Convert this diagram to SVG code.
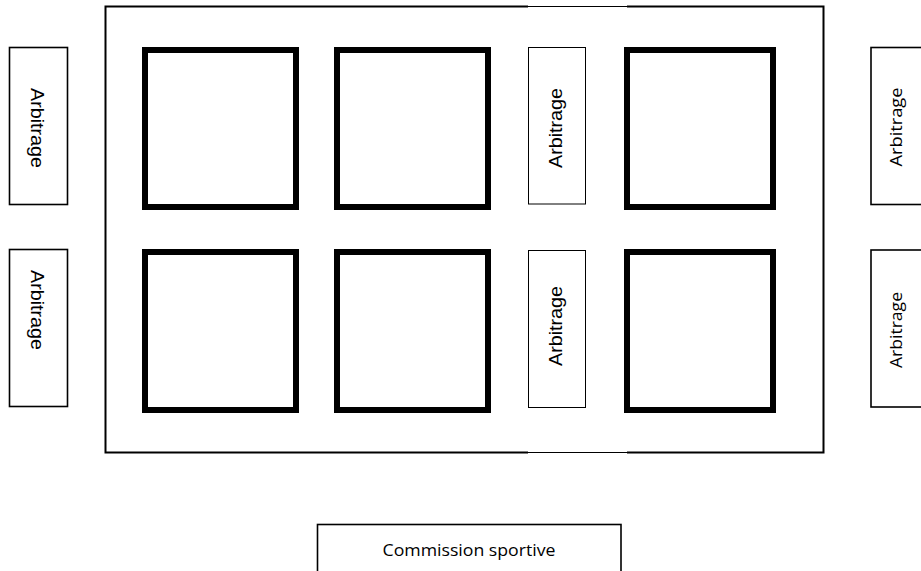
<svg xmlns="http://www.w3.org/2000/svg" width="921" height="571" viewBox="0 0 921 571">
<style>
.field{fill:none;stroke:#000;stroke-width:2}
.court{fill:#fff;stroke:#000;stroke-width:6}
.arb{fill:#fff;stroke:#000;stroke-width:1.6}
.arbthin{fill:#fff;stroke:#000;stroke-width:1}
.ta{font-family:"Liberation Sans",Arial,sans-serif;font-size:19px;fill:#000;text-anchor:middle}
.tc{font-family:"Open Sans","Liberation Sans",sans-serif;font-size:16px;fill:#000;text-anchor:middle}
</style>
<rect width="921" height="571" fill="#fff"/>
<g id="field">
<path class="field" d="M528 6.5 H105.5 V452.5 H528 M627 452.5 H823.5 V6.5 H627"/>
<path d="M528 6.5 H627 M528 452.5 H627" stroke="#000" stroke-width="1.2" fill="none"/>
</g>
<g id="court1"><rect class="court" x="145" y="50" width="151" height="157"/></g>
<g id="court2"><rect class="court" x="337" y="50" width="151" height="157"/></g>
<g id="court3"><rect class="court" x="627" y="50" width="146" height="157"/></g>
<g id="court4"><rect class="court" x="145" y="252" width="151" height="158"/></g>
<g id="court5"><rect class="court" x="337" y="252" width="151" height="158"/></g>
<g id="court6"><rect class="court" x="627" y="252" width="146" height="158"/></g>
<g id="arb-left-1"><rect class="arb" x="9.5" y="47.5" width="58" height="157"/><text class="ta" transform="translate(31 128) rotate(90)" textLength="80" lengthAdjust="spacingAndGlyphs">Arbitrage</text></g>
<g id="arb-left-2"><rect class="arb" x="9.5" y="249.5" width="58" height="157"/><text class="ta" transform="translate(31 310) rotate(90)" textLength="80" lengthAdjust="spacingAndGlyphs">Arbitrage</text></g>
<g id="arb-mid-1"><rect class="arbthin" x="528.5" y="47.5" width="57" height="156.5"/><text class="ta" transform="translate(562 128) rotate(-90)" textLength="80" lengthAdjust="spacingAndGlyphs">Arbitrage</text></g>
<g id="arb-mid-2"><rect class="arbthin" x="528.5" y="250.5" width="57" height="157"/><text class="ta" transform="translate(562 326) rotate(-90)" textLength="80" lengthAdjust="spacingAndGlyphs">Arbitrage</text></g>
<g id="arb-right-1"><rect class="arb" x="871" y="47.5" width="60" height="157"/><text class="tc" transform="translate(902 127) rotate(-90)" textLength="79" lengthAdjust="spacingAndGlyphs">Arbitrage</text></g>
<g id="arb-right-2"><rect class="arb" x="871" y="250" width="60" height="157"/><text class="tc" transform="translate(902 330) rotate(-90)" textLength="76" lengthAdjust="spacingAndGlyphs">Arbitrage</text></g>
<g id="commission"><rect class="arb" x="317.5" y="524.5" width="303.5" height="60"/><text class="tc" x="469" y="556" textLength="173" lengthAdjust="spacingAndGlyphs">Commission sportive</text></g>
<g id="connectors"></g>
</svg>
